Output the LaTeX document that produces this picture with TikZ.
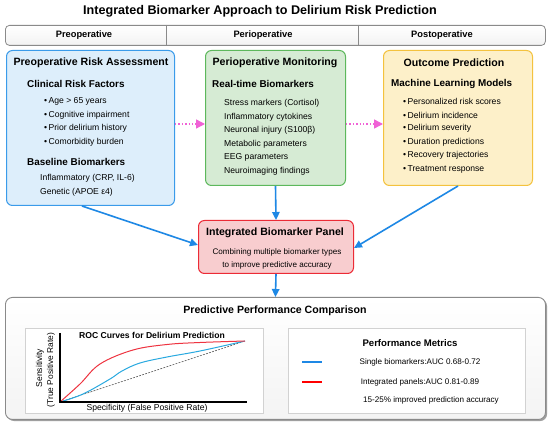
\documentclass[tikz,border=0pt]{standalone}
\usepackage{fontspec}
\setmainfont{Liberation Sans}
\usetikzlibrary{arrows.meta,calc,shadows}
\definecolor{bfill}{HTML}{DDEEFB}
\definecolor{bline}{HTML}{3A9BEA}
\definecolor{gfill}{HTML}{D6EBD4}
\definecolor{gline}{HTML}{5DB85C}
\definecolor{yfill}{HTML}{FDF0C9}
\definecolor{yline}{HTML}{F4C23E}
\definecolor{rfill}{HTML}{F8CDCF}
\definecolor{rline}{HTML}{EC2B36}
\definecolor{arrblue}{HTML}{1E88E5}
\definecolor{pinkarr}{HTML}{F062D6}
\definecolor{rocblue}{HTML}{29A9E0}
\definecolor{rocred}{HTML}{EE3340}
\definecolor{frame}{HTML}{8A8A8A}
\begin{document}
\begin{tikzpicture}[x=1pt,y=-1pt,
  boxstyle/.style={draw, line width=1pt, rounded corners=6pt, anchor=north west, inner sep=0pt},
  ttl/.style={font=\bfseries\fontsize{10.6}{12}\selectfont, inner sep=0pt},
  hdr/.style={font=\bfseries\fontsize{9.9}{11}\selectfont, anchor=west, inner sep=0pt},
  itm/.style={font=\fontsize{8.6}{10}\selectfont, anchor=west, inner sep=0pt},
  sml/.style={font=\fontsize{8.1}{10}\selectfont, inner sep=0pt},
  phase/.style={font=\bfseries\fontsize{9.3}{10}\selectfont, inner sep=0pt},
  bluearrow/.style={draw=arrblue, line width=1.6pt, -{Triangle[length=8pt,width=7.5pt]}},
  pinkarrow/.style={draw=pinkarr, line width=1.4pt, dotted, -{Triangle[length=9pt,width=9pt]}}
]
\useasboundingbox (0,0) rectangle (550,425);
\fill[white] (0,0) rectangle (550,425);

% title
\node[font=\bfseries\fontsize{12.6}{14}\selectfont, inner sep=0pt] (title) at (260,11) {Integrated Biomarker Approach to Delirium Risk Prediction};

% phase bar
\node[draw=frame, line width=0.8pt, top color=white, bottom color=gray!10, rounded corners=4pt, minimum width=540pt, minimum height=20pt, anchor=north west, inner sep=0pt] (bar) at (5,25) {};
\draw[frame, line width=0.8pt] (166,25) -- (166,45);
\draw[frame, line width=0.8pt] (358,25) -- (358,45);
\node[phase] (ph1) at (84,35) {Preoperative};
\node[phase] (ph2) at (263,35) {Perioperative};
\node[phase] (ph3) at (442,35) {Postoperative};

% box 1
\node[boxstyle, draw=bline, fill=bfill, minimum width=168pt, minimum height=155pt] (b1) at (6,50) {};
\node[ttl] (b1t) at (91,63) {Preoperative Risk Assessment};
\node[hdr] (b1h1) at (27,84) {Clinical Risk Factors};
\node[itm] (b1i1) at (44,101) {\textbullet\,Age > 65 years};
\node[itm] (b1i2) at (44,115) {\textbullet\,Cognitive impairment};
\node[itm] (b1i3) at (44,128) {\textbullet\,Prior delirium history};
\node[itm] (b1i4) at (44,142) {\textbullet\,Comorbidity burden};
\node[hdr] (b1h2) at (27,162) {Baseline Biomarkers};
\node[itm] (b1j1) at (40,178) {Inflammatory (CRP, IL-6)};
\node[itm] (b1j2) at (40,192) {Genetic (APOE ε4)};

% box 2
\node[boxstyle, draw=gline, fill=gfill, minimum width=140pt, minimum height=135pt] (b2) at (205,50) {};
\node[ttl] (b2t) at (275,63) {Perioperative Monitoring};
\node[hdr] (b2h1) at (212,84) {Real-time Biomarkers};
\node[itm] (b2i1) at (224,103) {Stress markers (Cortisol)};
\node[itm] (b2i2) at (224,117) {Inflammatory cytokines};
\node[itm] (b2i3) at (224,130) {Neuronal injury (S100β)};
\node[itm] (b2i4) at (224,144) {Metabolic parameters};
\node[itm] (b2i5) at (224,157) {EEG parameters};
\node[itm] (b2i6) at (224,171) {Neuroimaging findings};

% box 3
\node[boxstyle, draw=yline, fill=yfill, minimum width=149pt, minimum height=135pt] (b3) at (383,50) {};
\node[ttl] (b3t) at (454,63) {Outcome Prediction};
\node[hdr] (b3h1) at (391,84) {Machine Learning Models};
\node[itm] (b3i1) at (403,101) {\textbullet\,Personalized risk scores};
\node[itm] (b3i2) at (403,115) {\textbullet\,Delirium incidence};
\node[itm] (b3i3) at (403,128) {\textbullet\,Delirium severity};
\node[itm] (b3i4) at (403,142) {\textbullet\,Duration predictions};
\node[itm] (b3i5) at (403,155) {\textbullet\,Recovery trajectories};
\node[itm] (b3i6) at (403,169) {\textbullet\,Treatment response};

% pink arrows
\draw[pinkarrow] ([yshift=-74pt]b1.north east) -- ([yshift=-74pt]b2.north west);
\draw[pinkarrow] ([yshift=-74pt]b2.north east) -- ([yshift=-74pt]b3.north west);

% integrated panel
\node[boxstyle, draw=rline, fill=rfill, minimum width=155pt, minimum height=53pt] (pan) at (198,220) {};
\node[ttl] (pant) at (275,233) {Integrated Biomarker Panel};
\node[sml] (pan1) at (277,252) {Combining multiple biomarker types};
\node[sml] (pan2) at (277,265) {to improve predictive accuracy};

% blue arrows
\draw[bluearrow] ([xshift=76pt]b1.south west) -- ([yshift=2pt]pan.west);
\draw[bluearrow] (b2.south) -- (pan.north);
\draw[bluearrow] (b3.south) -- ([yshift=-1pt]pan.east);

% comparison box
\node[draw=frame, line width=0.9pt, top color=white, bottom color=gray!9, rounded corners=7pt, minimum width=540pt, minimum height=122pt, anchor=north west, inner sep=0pt,
  drop shadow={shadow xshift=1.6pt, shadow yshift=-1.6pt, fill=gray!75, opacity=1}] (cmp) at (5,297) {};
\draw[bluearrow] (pan.south) -- (cmp.north);
\node[ttl] (cmpt) at (275,311) {Predictive Performance Comparison};

% ROC box
\node[draw=gray!35, line width=0.7pt, fill=white, minimum width=238pt, minimum height=85pt, anchor=north west, inner sep=0pt] (roc) at (25,328) {};
\node[font=\bfseries\fontsize{8.6}{10}\selectfont, inner sep=0pt] (roct) at (152,335) {ROC Curves for Delirium Prediction};
\coordinate (o) at (60,402);
\coordinate (yt) at (60,333);
\coordinate (xe) at (247,402);
\coordinate (te) at (245,341);
\draw[gray!70!black, line width=0.6pt, dash pattern=on 2pt off 1.2pt] (o) -- (te);
\draw[rocblue, line width=1pt] plot[smooth, tension=0.6] coordinates {(60,402) (83,394) (110,379) (122,371) (140,363) (167,357) (200,351) (245,341)};
\draw[rocred, line width=1pt] plot[smooth, tension=0.6] coordinates {(60,402) (80,384) (100,364) (133,350) (167,344.5) (200,342.5) (245,341)};
\draw[black, line width=1.5pt] (yt) -- (o) -- (xe);
\node[font=\fontsize{8.5}{10}\selectfont, rotate=90, inner sep=0pt] (yl1) at (40,368) {Sensitivity};
\node[font=\fontsize{8.4}{10}\selectfont, rotate=90, inner sep=0pt] (yl2) at (51,370) {(True Positive Rate)};
\node[font=\fontsize{8.6}{10}\selectfont, inner sep=0pt] (xl) at (147,408) {Specificity (False Positive Rate)};

% metrics box
\node[draw=gray!35, line width=0.7pt, fill=white, minimum width=237pt, minimum height=85pt, anchor=north west, inner sep=0pt] (met) at (288,328) {};
\node[font=\bfseries\fontsize{9.6}{11}\selectfont, inner sep=0pt] (mett) at (410,343) {Performance Metrics};
\coordinate (l1a) at (302,362);
\coordinate (l1b) at (322,362);
\coordinate (l2a) at (302,382);
\coordinate (l2b) at (322,382);
\draw[arrblue, line width=1.2pt] (l1a) -- (l1b);
\draw[red, line width=1.2pt] (l2a) -- (l2b);
\node[sml] (m1) at (420,362) {Single biomarkers:AUC 0.68-0.72};
\node[sml] (m2) at (420,382) {Integrated panels:AUC 0.81-0.89};
\node[sml] (m3) at (431,400) {15-25\% improved prediction accuracy};
\end{tikzpicture}
\end{document}
